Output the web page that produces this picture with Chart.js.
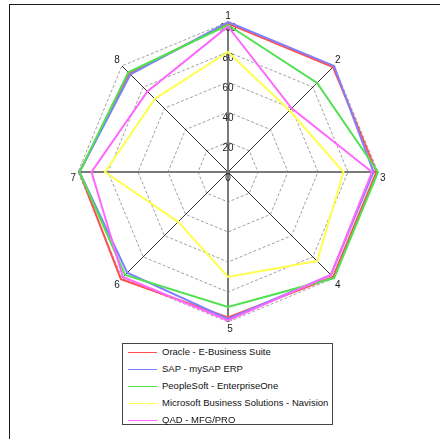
<!DOCTYPE html>
<html>
<head>
<meta charset="utf-8">
<script src="https://cdn.jsdelivr.net/npm/chart.js@4/dist/chart.umd.min.js"></script>
<style>
  html, body { margin: 0; padding: 0; background: #fff; }
  #wrap { position: relative; width: 440px; height: 439px; overflow: hidden; font-family: "Liberation Sans", Arial, sans-serif; }
  #frame { position: absolute; left: 9px; top: 4px; width: 440px; height: 440px; border-top: 1px solid #1a1a1a; border-left: 1px solid #1a1a1a; pointer-events: none; }
  canvas { position: absolute; left: 0; top: 0; }
  #legend { position: absolute; left: 122px; top: 343px; width: 211px; height: 82px; box-sizing: border-box; border: 1px solid #444; background: #fff; }
  .row { position: absolute; left: 0; height: 12px; width: 100%; }
  .swatch { position: absolute; left: 5px; top: 6px; width: 29px; height: 1px; }
  .txt { position: absolute; left: 39px; top: 0; font-size: 9.5px; line-height: 12px; color: #111; white-space: nowrap; }
</style>
</head>
<body>
<div id="wrap">
  <canvas id="c" width="440" height="439"></canvas>
  <div id="frame"></div>
  <div id="legend"></div>
</div>
<script>
const categories = ['1', '2', '3', '4', '5', '6', '7', '8'];
const seriesNames = [
  'Oracle - E-Business Suite',
  'SAP - mySAP ERP',
  'PeopleSoft - EnterpriseOne',
  'Microsoft Business Solutions - Navision',
  'QAD - MFG/PRO'
];
const oracleValues     = [99, 99, 99, 99, 97, 101, 99, 93];
const sapValues        = [100, 100, 97, 97, 98, 95, 99, 92];
const peopleSoftValues = [98, 84, 100, 100, 90, 97, 99, 94];
const microsoftValues  = [80, 58, 77, 84, 70, 47, 82, 69];
const qadValues        = [97, 60, 96, 97, 99, 99, 91, 76];
const tickValues = [0, 20, 40, 60, 80, 100];

const seriesValues = [oracleValues, sapValues, peopleSoftValues, microsoftValues, qadValues];
const seriesColors = ['#ff5050', '#8080ff', '#50e050', '#ffff50', '#ff66ff'];

const datasets = seriesNames.map((name, i) => ({
  label: name,
  data: seriesValues[i],
  borderColor: seriesColors[i],
  backgroundColor: seriesColors[i],
  borderWidth: 2,
  pointRadius: 0,
  pointHoverRadius: 0,
  fill: false,
  tension: 0,
  order: seriesNames.length - i
}));

const FONT = '"Liberation Sans", Arial, sans-serif';

const labelPlugin = {
  id: 'radarLabels',
  beforeDatasetsDraw(chart) {
    const s = chart.scales.r;
    const ctx = chart.ctx;
    ctx.save();
    // value tick labels along the vertical axis
    ctx.font = '10px ' + FONT;
    ctx.fillStyle = '#222';
    ctx.textAlign = 'center';
    ctx.textBaseline = 'middle';
    tickValues.forEach(v => {
      const d = s.getDistanceFromCenterForValue(v);
      ctx.fillText(String(v), s.xCenter, s.yCenter - d + 6);
    });
    // category labels at the end of each spoke
    ctx.fillStyle = '#1a1a1a';
    categories.forEach((lab, i) => {
      const p = s.getPointPosition(i, s.drawingArea);
      const dx = p.x - s.xCenter, dy = p.y - s.yCenter;
      let x = p.x, y = p.y;
      if (Math.abs(dx) < 1) {
        ctx.textAlign = 'center';
        if (dy < 0) { ctx.textBaseline = 'alphabetic'; y -= 3; }
        else { ctx.textBaseline = 'top'; y += 2; x += 2; }
      } else if (Math.abs(dy) < 1) {
        ctx.textBaseline = 'middle';
        y += 6;
        if (dx > 0) { ctx.textAlign = 'left'; x += 2; }
        else { ctx.textAlign = 'right'; x -= 2; }
      } else {
        if (dx > 0) { ctx.textAlign = 'left'; x += 1; }
        else { ctx.textAlign = 'right'; x -= 2; }
        if (dy < 0) { ctx.textBaseline = 'alphabetic'; y -= 3; }
        else { ctx.textBaseline = 'top'; y += 2; }
      }
      ctx.fillText(lab, x, y);
    });
    ctx.restore();
  }
};

new Chart(document.getElementById('c'), {
  type: 'radar',
  data: { labels: categories, datasets },
  options: {
    responsive: false,
    animation: false,
    devicePixelRatio: 1,
    layout: { padding: { top: 22, bottom: 117, left: 16, right: 0 } },
    plugins: { legend: { display: false }, tooltip: { enabled: false } },
    scales: {
      r: {
        min: 0,
        max: 100,
        ticks: { stepSize: 20, display: false },
        grid: { circular: false, color: '#a0a0a0', lineWidth: 1, borderDash: [3, 2] },
        border: { dash: [3, 2] },
        angleLines: {
          display: true,
          color: (ctx) => (ctx.index % 2 === 0 ? '#7a7a7a' : '#303030'),
          lineWidth: (ctx) => (ctx.index % 2 === 0 ? 2 : 1)
        },
        pointLabels: { display: false }
      }
    }
  },
  plugins: [labelPlugin]
});

const legend = document.getElementById('legend');
seriesNames.forEach((name, i) => {
  const row = document.createElement('div');
  row.className = 'row';
  row.style.top = (2 + i * 17) + 'px';
  const sw = document.createElement('div');
  sw.className = 'swatch';
  sw.style.background = seriesColors[i];
  const t = document.createElement('div');
  t.className = 'txt';
  t.textContent = name;
  row.appendChild(sw);
  row.appendChild(t);
  legend.appendChild(row);
});
</script>
</body>
</html>
